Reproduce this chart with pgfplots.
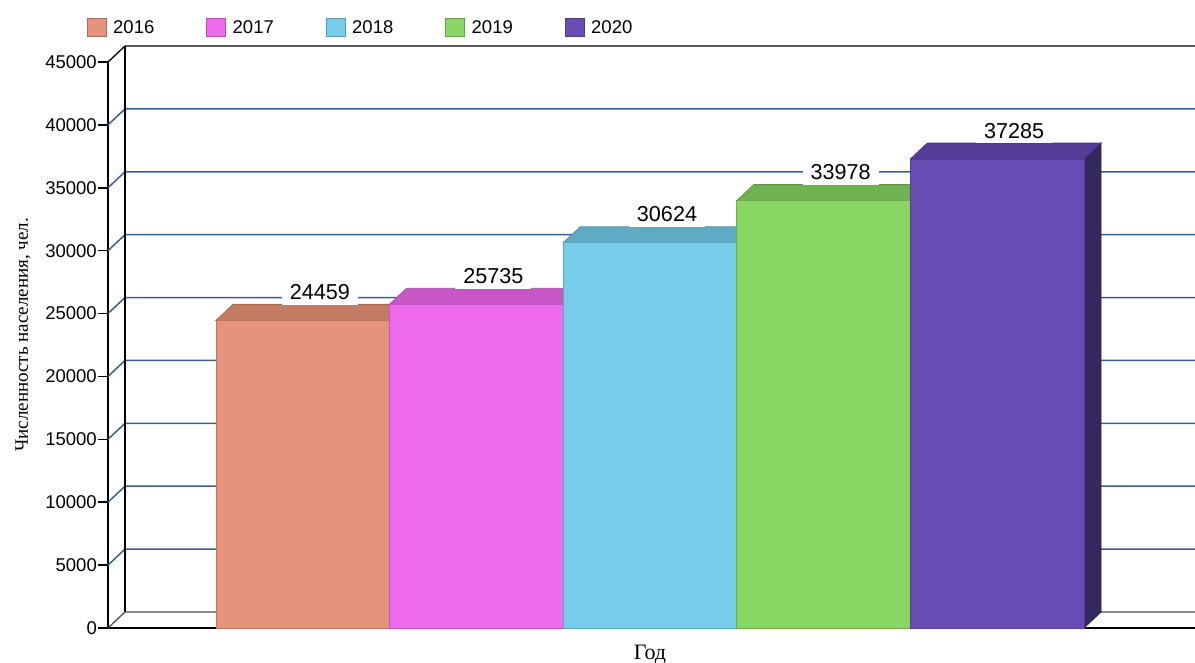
\documentclass[border=0pt]{standalone}
\usepackage{pgfplots}
\pgfplotsset{compat=1.18}
\usepackage{fontspec}
\setmainfont{Liberation Sans}
\newfontfamily\seriffont{Liberation Serif}
\definecolor{fA}{HTML}{E5937A}\definecolor{tA}{HTML}{C47C65}
\definecolor{fB}{HTML}{F06AEE}\definecolor{tB}{HTML}{C956C7}
\definecolor{fC}{HTML}{76CDEA}\definecolor{tC}{HTML}{5FAAC5}
\definecolor{fD}{HTML}{8AD665}\definecolor{tD}{HTML}{70B152}
\definecolor{fE}{HTML}{6A4CB5}\definecolor{tE}{HTML}{543D99}\definecolor{sE}{HTML}{35285F}
\definecolor{gridc}{HTML}{3A5F8C}
% #1 left x, #2 value, #3 front colour, #4 top colour, #5 side colour
\newcommand{\tdbar}[5]{%
\addplot[forget plot, fill=#5, draw=#5!85!black, line width=0.8pt] coordinates {(#1+173.6,0) (#1+190.6,1272) (#1+190.6,#2+1272) (#1+173.6,#2)} -- cycle;
\addplot[forget plot, fill=#4, draw=#4!85!black, line width=0.8pt] coordinates {(#1,#2) (#1+17,#2+1272) (#1+190.6,#2+1272) (#1+173.6,#2)} -- cycle;
\addplot[forget plot, fill=#3, draw=#3!80!black, line width=0.8pt] coordinates {(#1,0) (#1,#2) (#1+173.6,#2) (#1+173.6,0)} -- cycle;
\node[anchor=base, fill=white, inner xsep=8pt, inner ysep=5pt, yshift=5pt, font=\fontsize{21.6}{24}\selectfont] at (axis cs:#1+103.8,#2+1272) {#2};
}
\begin{document}
\begin{tikzpicture}
\useasboundingbox (0,0) rectangle (1195pt,662pt);
\begin{axis}[
  at={(108pt,34pt)}, anchor=south west,
  scale only axis, width=1087pt, height=566pt,
  xmin=108, xmax=1195, ymin=0, ymax=45000,
  clip=false,
  axis x line*=bottom, axis y line*=left,
  axis line style={line width=2.5pt, black, -},
  xtick=\empty,
  ytick={0,5000,10000,15000,20000,25000,30000,35000,40000,45000},
  tick align=outside, major tick length=10pt,
  tick style={black, line width=1.5pt},
  /pgf/number format/assume math mode=true,
  /pgf/number format/fixed, /pgf/number format/1000 sep={},
  yticklabel style={font=\fontsize{18.5}{20}\selectfont, inner sep=0pt, xshift=-1pt},
  scaled y ticks=false,
]
% back wall grid
\pgfplotsinvokeforeach{5000,10000,15000,20000,25000,30000,35000,40000}{
\addplot[forget plot, draw=gridc, line width=1.5pt] coordinates {(108,#1) (125,#1+1272) (1195,#1+1272)};
}
\addplot[forget plot, draw=black, line width=1.3pt] coordinates {(108,45000) (125,46272) (1195,46272)};
\addplot[forget plot, draw=black, line width=1.2pt] coordinates {(125,46272) (125,1272)};
\addplot[forget plot, draw=black!70, line width=1.3pt] coordinates {(108,0) (125,1272) (1195,1272)};
% bars
\tdbar{216}{24459}{fA}{tA}{tA}
\tdbar{389.6}{25735}{fB}{tB}{tB}
\tdbar{563.2}{30624}{fC}{tC}{tC}
\tdbar{736.8}{33978}{fD}{tD}{tD}
\tdbar{910.4}{37285}{fE}{tE}{sE}
\end{axis}
% legend
\foreach \i/\yr/\c in {0/2016/fA,1/2017/fB,2/2018/fC,3/2019/fD,4/2020/fE}{
  \pgfmathsetmacro\xa{87+119.5*\i}
  \pgfmathsetmacro\xb{113+119.5*\i}
  \filldraw[fill=\c, draw=\c!75!black, line width=0.8pt] (\xa pt,626pt) rectangle ++(19pt,18pt);
  \node[anchor=west, inner sep=0pt, font=\fontsize{18.5}{20}\selectfont] at (\xb pt,635pt) {\yr};
}
\node[rotate=90, font=\seriffont\fontsize{19}{22}\selectfont] at (23pt,327pt) {Численность населения, чел.};
\node[anchor=base, font=\seriffont\fontsize{22}{24}\selectfont] at (650pt,3pt) {Год};
\end{tikzpicture}
\end{document}
